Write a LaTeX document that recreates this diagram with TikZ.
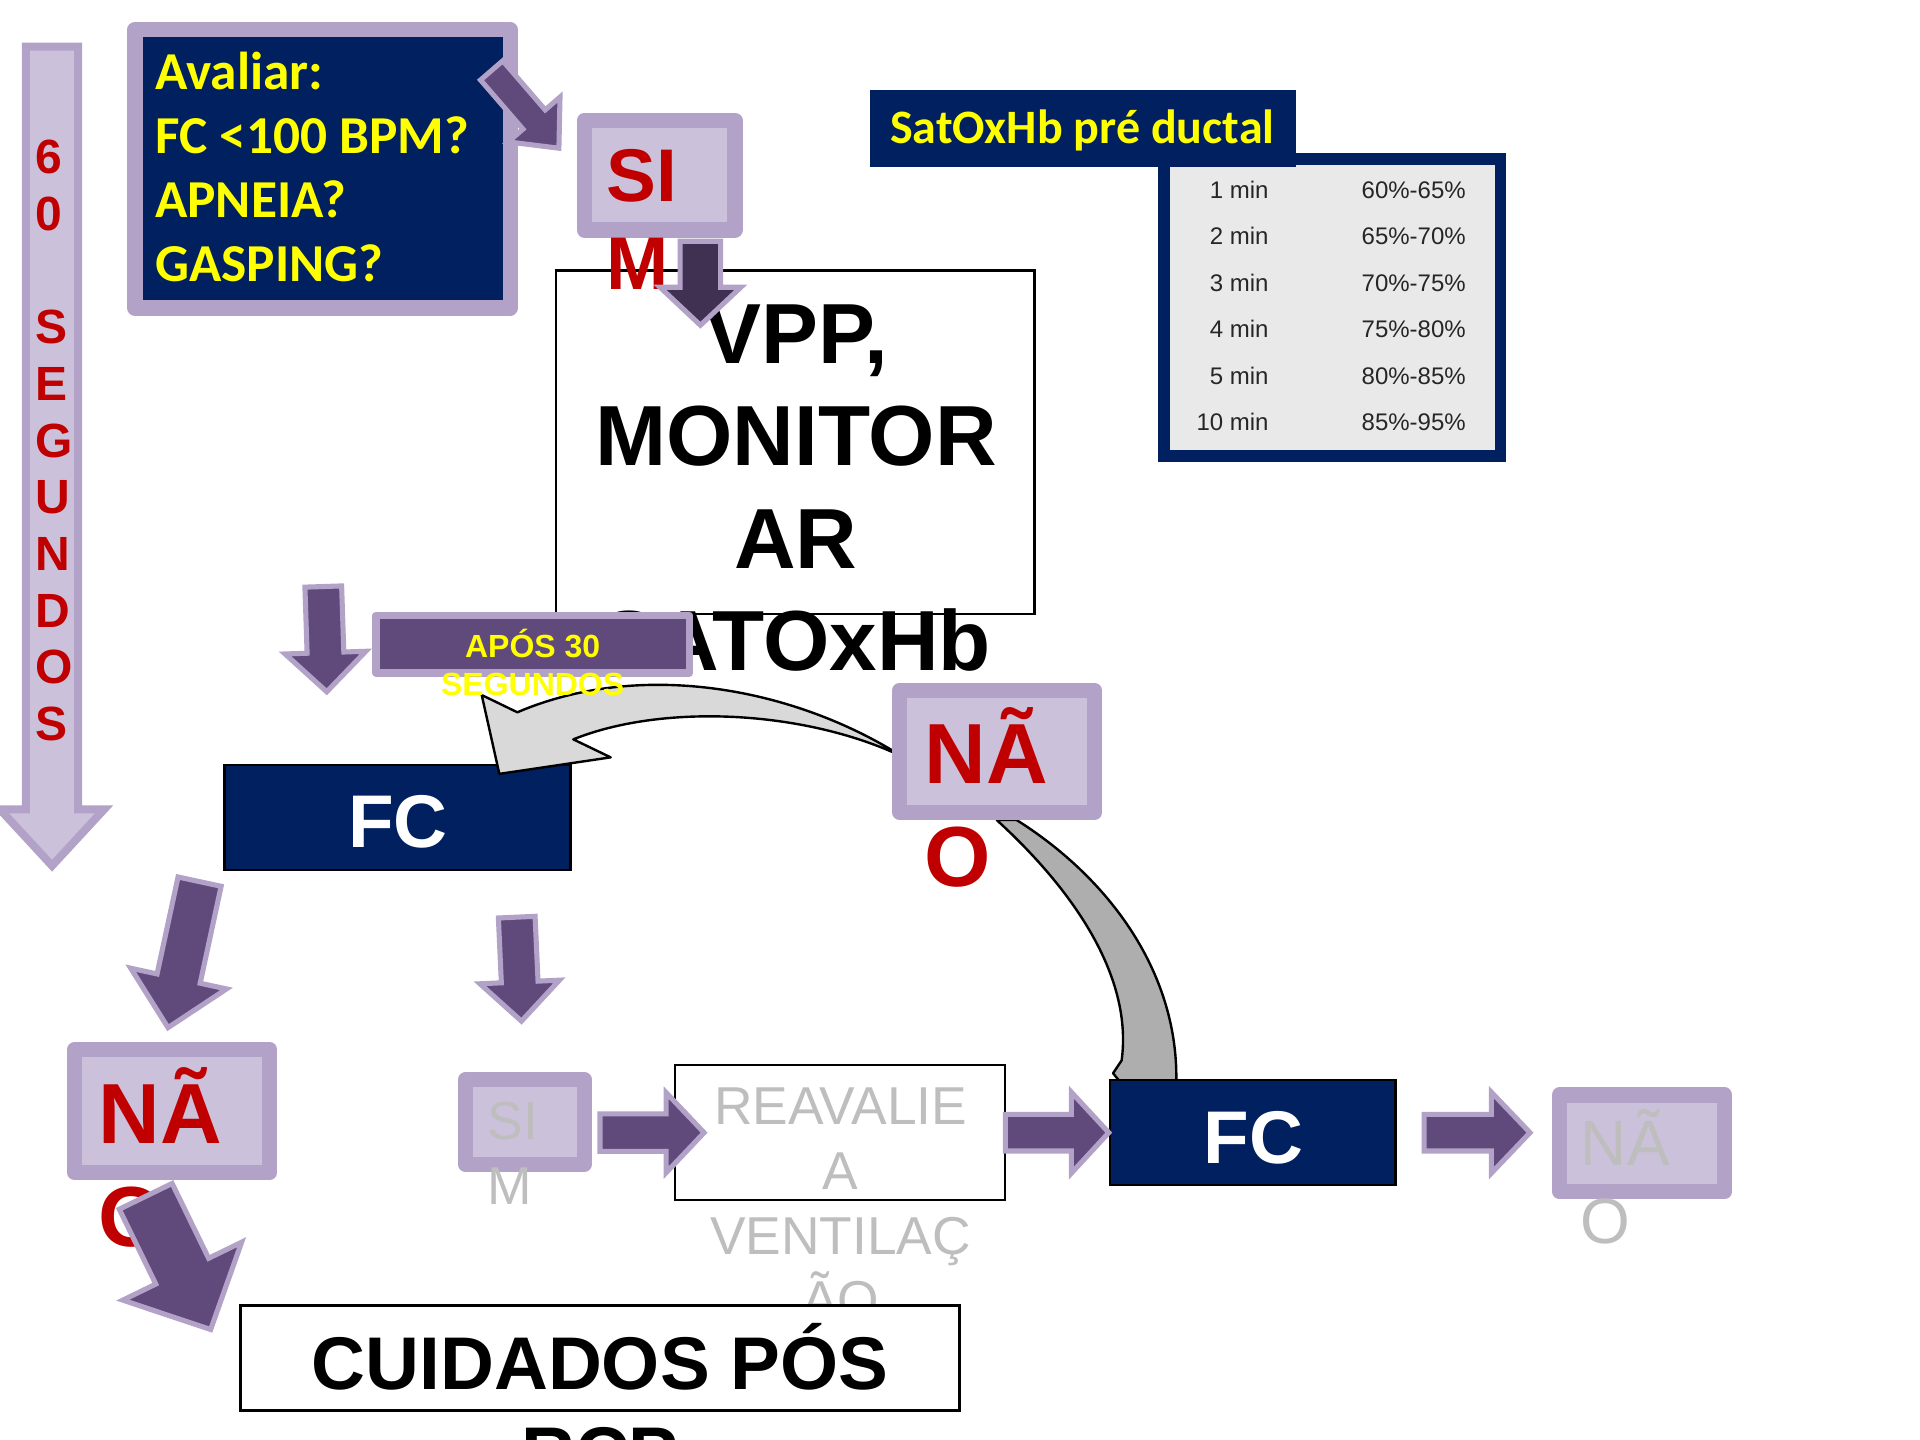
\documentclass[tikz,border=0pt]{standalone}
\usepackage{fontspec}
\setmainfont{Liberation Sans}
\newfontfamily\calibfont{Carlito}

\definecolor{navy}{HTML}{002060}
\definecolor{lavedge}{HTML}{B3A2C7}
\definecolor{lavfill}{HTML}{CCC1DA}
\definecolor{plum}{HTML}{604A7B}
\definecolor{deepplum}{HTML}{403152}
\definecolor{alertred}{HTML}{C00000}
\definecolor{hiyellow}{HTML}{FFFF00}
\definecolor{paleband}{HTML}{D9D9D9}
\definecolor{midband}{HTML}{AEAEAE}
\definecolor{tablebg}{HTML}{E9E9E9}
\definecolor{tabletext}{HTML}{262626}
\definecolor{embossgray}{HTML}{BEBEBE}

\newcommand\fs[2]{\fontsize{#1}{#2}\selectfont}

\tikzset{
  x=0.459184pt, y=-0.459184pt,
  lavbox/.style={draw=lavedge, fill=lavfill, line width=5.7pt, line join=round, inner sep=0pt},
  plainbox/.style={draw=black, line width=1pt, inner sep=0pt},
  txt/.style={inner sep=0pt, outer sep=0pt},
  lightarrow/.style={fill=lavfill, draw=lavedge, line width=3pt},
  darkarrow/.style={fill=plum, draw=lavedge, line width=1.9pt},
  deeparrow/.style={fill=deepplum, draw=lavedge, line width=1.9pt},
  curvearrow/.style={draw=black, line width=0.9pt, line join=round},
  % block arrow along local x: style, length, shaft half width, head half width, head length
  pics/barrow/.style n args={5}{code={
    \path[#1] (0,-#3) -- ({#2-#5},-#3) -- ({#2-#5},-#4) -- (#2,0)
      -- ({#2-#5},#4) -- ({#2-#5},#3) -- (0,#3) -- cycle;}},
}

\begin{document}
\begin{tikzpicture}
\useasboundingbox (0,0) rectangle (1568,1176);
\fill[white] (0,0) rectangle (1568,1176);

% multi-line labels are placed by the baseline of their last line

% time line on the left
\pic[rotate=-90] at (42.5,38) {barrow={lightarrow}{669}{21.3}{42.5}{46}};
\node[txt, anchor=base west, align=left, text=alertred, font=\bfseries\fs{18}{21.26}] (sixty) at (28.6,604.8) {6\\0\\~\\S\\E\\G\\U\\N\\D\\O\\S};

% first assessment
\node[lavbox, fill=navy, minimum width=140.7pt, minimum height=104.4pt] (ask) at (263.4,137.9) {};
\node[txt, anchor=base west, align=left, text=hiyellow, font=\calibfont\bfseries\fs{20}{23.9}] (askt) at (126.8,229.5) {Avaliar:\\FC <100 BPM?\\APNEIA?\\GASPING?};

% ventilation box
\node[plainbox, fill=white, minimum width=179.5pt, minimum height=128.8pt] (vpp) at (649.5,361.25) {};
\node[txt, anchor=base, align=center, font=\bfseries\fs{32}{38.4}] (vppt) at (650,547.8) {VPP,\\MONITOR\\AR\\SATOxHb};

% yes branch
\node[lavbox, minimum width=56.5pt, minimum height=41.1pt] (yes1) at (538.75,143) {};
\node[txt, anchor=base west, align=left, text=alertred, font=\bfseries\fs{28}{33}] (yes1t) at (495.6,236.6) {SI\\M};
\pic[rotate=-49.15] at (401.5,57.5) {barrow={darkarrow}{84}{12}{28}{31}};
\pic[rotate=-90] at (572,197) {barrow={deeparrow}{68.6}{16.5}{33}{31}};

% saturation targets
\node[draw=navy, fill=tablebg, line width=4.36pt, minimum width=126.2pt, minimum height=111.35pt, inner sep=0pt] (sattable) at (1087.85,251) {};
\node[fill=navy, minimum width=159.6pt, minimum height=28.9pt, inner sep=0pt] (sathead) at (884.25,105) {};
\node[txt, anchor=base west, text=hiyellow, font=\calibfont\bfseries\fs{18}{21.6}] (satheadt) at (727,117) {SatOxHb pré ductal};
\node[txt, anchor=base east, align=right, text=tabletext, font=\fs{9}{17.4}] (tmin) at (1036,351.5) {1 min\\2 min\\3 min\\4 min\\5 min\\10 min};
\node[txt, anchor=base east, align=right, text=tabletext, font=\fs{9}{17.4}] (tpct) at (1197,351.5) {60\%-65\%\\65\%-70\%\\70\%-75\%\\75\%-80\%\\80\%-85\%\\85\%-95\%};

% heart rate check
\node[plainbox, fill=navy, minimum width=129.7pt, minimum height=39.4pt] (hr1) at (324.65,667.6) {};
\node[txt, anchor=base, text=white, font=\bfseries\fs{28}{33.6}] (hr1t) at (325,692) {FC};

% curved return arrows
\path[curvearrow, fill=paleband] (728.2,612.5) .. controls (640,560) and (520,540) .. (422.5,581.7)
  -- (393.4,567.6) -- (407.8,632) -- (498.7,618.5) -- (468.2,603.8)
  .. controls (540,575) and (650,580) .. (728.2,613.9) -- cycle;
\path[curvearrow, fill=midband] (814,669.7) .. controls (880,730) and (925,800) .. (916,866)
  -- (909,876.5) -- (920,890) -- (960.4,890)
  .. controls (965,800) and (910,720) .. (830.3,669.7) -- cycle;

% 30 seconds label
\node[draw=lavedge, fill=plum, line width=2.9pt, line join=round, minimum width=117.6pt, minimum height=21.4pt, inner sep=0pt] (after30) at (434.95,526.05) {};
\node[txt, anchor=base, align=center, text=hiyellow, font=\bfseries\fs{12}{14.05}] (after30t) at (435,567.6) {APÓS 30\\SEGUNDOS};
\pic[rotate=-88.1] at (264,479) {barrow={darkarrow}{86}{15}{33}{32}};

% no branch
\node[lavbox, minimum width=73pt, minimum height=45.8pt] (no1) at (814.35,613.6) {};
\node[txt, anchor=base west, align=left, text=alertred, font=\bfseries\fs{32}{38.6}] (no1t) at (755.4,723.8) {NÃ\\O};

% lower left branch
\pic[rotate=-102.2] at (163,720) {barrow={darkarrow}{122}{18}{40}{41}};
\node[lavbox, minimum width=73.2pt, minimum height=46.1pt] (no2) at (140.65,907.35) {};
\node[txt, anchor=base west, align=left, text=alertred, font=\bfseries\fs{32}{38.6}] (no2t) at (80.7,1017.7) {NÃ\\O};
\pic[rotate=-64] at (119,977) {barrow={darkarrow}{121}{24}{54}{53}};

% lower middle branch
\pic[rotate=-87.4] at (422,749) {barrow={darkarrow}{85}{15}{32.5}{32}};
\node[lavbox, minimum width=44.5pt, minimum height=31.7pt] (yes2) at (428.65,916.25) {};
\node[txt, anchor=base west, align=left, text=embossgray, font=\fs{20}{24.3}] (yes2t) at (398.5,983.6) {SI\\M};

\node[plainbox, fill=white, minimum width=123.75pt, minimum height=50.6pt] (recheck) at (685.95,924.9) {};
\node[txt, anchor=base, align=center, text=embossgray, font=\fs{20}{24.2}] (recheckt) at (686.5,1076.8) {REAVALIE\\A\\VENTILAÇ\\ÃO};
\pic at (490,925) {barrow={darkarrow}{85}{15.3}{32.7}{31}};

% post-resuscitation care
\node[plainbox, fill=white, minimum width=269.8pt, minimum height=39.5pt] (postcare) at (490.05,1109) {};
\node[txt, anchor=base, align=center, font=\bfseries\fs{28}{33.6}] (postcaret) at (490,1208) {CUIDADOS PÓS\\RCP};

% second heart rate check
\node[plainbox, fill=navy, minimum width=107pt, minimum height=39.4pt] (hr2) at (1023.05,924.85) {};
\node[txt, anchor=base, text=white, font=\bfseries\fs{28}{33.6}] (hr2t) at (1023.6,950) {FC};
\pic at (821,925) {barrow={darkarrow}{84.5}{15}{33}{30.5}};
\pic at (1163,925) {barrow={darkarrow}{86.5}{15}{33}{31.5}};

\node[lavbox, minimum width=61.9pt, minimum height=36.3pt] (no3) at (1341.05,933.7) {};
\node[txt, anchor=base west, align=left, text=embossgray, font=\fs{24}{29}] (no3t) at (1291,1015.2) {NÃ\\O};
\end{tikzpicture}
\end{document}
